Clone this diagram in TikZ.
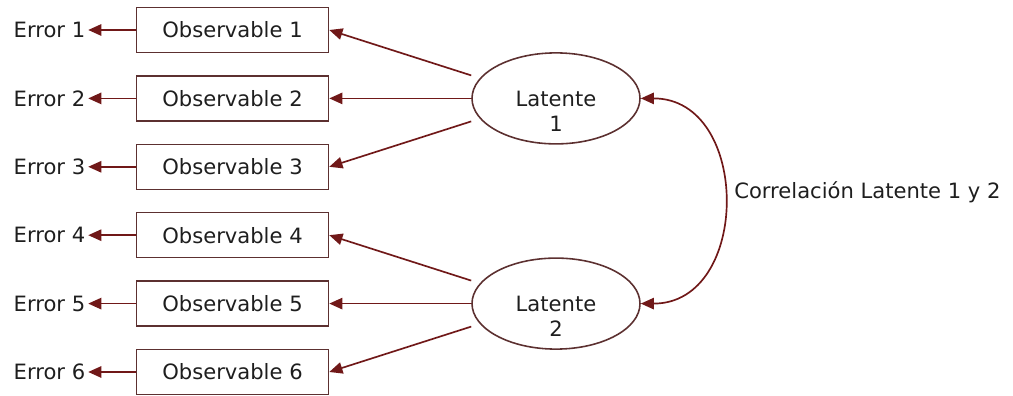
\documentclass[tikz,border=0pt]{standalone}
\usepackage{fontspec}
\setmainfont{DejaVu Sans}
\usepackage{tikz}
\usetikzlibrary{arrows.meta,positioning,shapes.geometric}
\definecolor{linkred}{RGB}{112,24,24}
\definecolor{edgegray}{RGB}{92,48,48}
\definecolor{textgray}{RGB}{30,30,30}
\tikzset{%
	block/.style    = {draw=edgegray, rectangle, line width=0.9pt, minimum width=3.84cm, minimum height=0.9cm, text centered}, % Observable
	latent/.style   = {draw=edgegray, ellipse, line width=0.9pt, minimum width=3.36cm, minimum height=1.82cm, inner sep=0pt}, % Latent
	errlabel/.style = {rectangle, inner sep=1.5pt}, % Error
	link/.style     = {draw=linkred, fill=linkred, line width=0.95pt},
}

\begin{document}
\begin{tikzpicture}[node distance=1.368cm,text=textgray,font=\fontsize{12pt}{14pt}\selectfont,>={Triangle[length=7.5pt,width=6.5pt]}]
	\useasboundingbox (0,0) rectangle (20.26,-7.92);
	% observables
	\node [block] (O1) at (4.65,-0.6) {Observable 1};
	\node [block] (O2) [below of=O1] {Observable 2};
	\node [block] (O3) [below of=O2] {Observable 3};
	\node [block] (O4) [below of=O3] {Observable 4};
	\node [block] (O5) [below of=O4] {Observable 5};
	\node [block] (O6) [below of=O5] {Observable 6};
	% errors
	\node [errlabel, left=0.95cm of O1] (E1) {Error 1};
	\node [errlabel, left=0.95cm of O2] (E2) {Error 2};
	\node [errlabel, left=0.95cm of O3] (E3) {Error 3};
	\node [errlabel, left=0.95cm of O4] (E4) {Error 4};
	\node [errlabel, left=0.95cm of O5] (E5) {Error 5};
	\node [errlabel, left=0.95cm of O6] (E6) {Error 6};
	% latents
	\node [latent] (L1) [right of=O2, node distance=6.47cm] {};
	\node [latent] (L2) [right of=O5, node distance=6.47cm] {};
	\node [align=center] (T1) at ([yshift=-0.26cm]L1.center) {Latente\\1};
	\node [align=center] (T2) at ([yshift=-0.26cm]L2.center) {Latente\\2};
	% loadings
	\draw[link,->] ([yshift=0.46cm]L1.west) -- (O1.east);
	\draw[link,->] (L1.west) -- (O2.east);
	\draw[link,->] ([yshift=-0.46cm]L1.west) -- (O3.east);
	\draw[link,->] ([yshift=0.46cm]L2.west) -- (O4.east);
	\draw[link,->] (L2.west) -- (O5.east);
	\draw[link,->] ([yshift=-0.46cm]L2.west) -- (O6.east);
	% errors
	\draw[link,->] (O1.west) -- (E1.east);
	\draw[link,->] (O2.west) -- (E2.east);
	\draw[link,->] (O3.west) -- (E3.east);
	\draw[link,->] (O4.west) -- (E4.east);
	\draw[link,->] (O5.west) -- (E5.east);
	\draw[link,->] (O6.west) -- (E6.east);
	% correlation
	\draw[link,fill=none,<->,>={Triangle[length=7.5pt,width=6.5pt,fill=linkred]}] (L1.east) to[out=0, in=0, looseness=1.38] node[right=0.08cm, yshift=0.18cm] (C) {Correlación Latente 1 y 2} (L2.east);
\end{tikzpicture}
\end{document}
